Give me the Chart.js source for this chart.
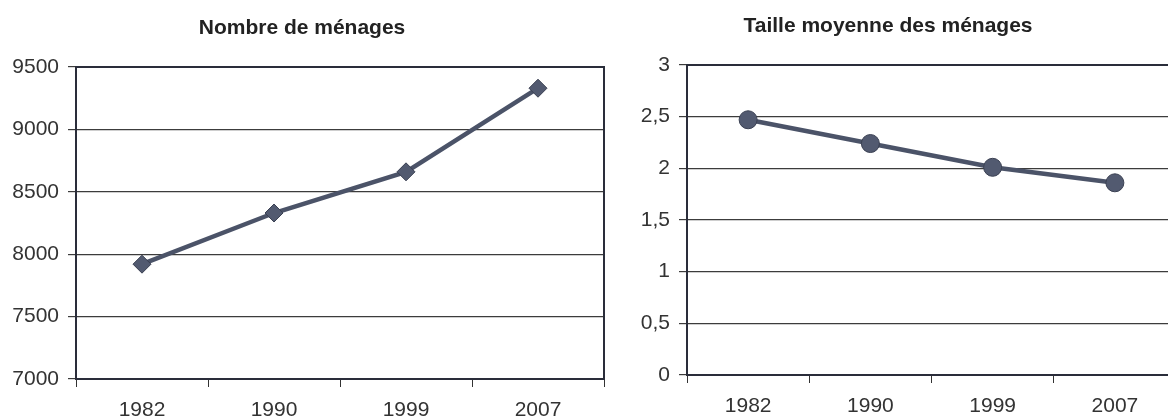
<!DOCTYPE html>
<html>
<head>
<meta charset="utf-8">
<script src="https://cdn.jsdelivr.net/npm/chart.js@4/dist/chart.umd.min.js"></script>
<style>
  html, body { margin: 0; padding: 0; background: #fff; overflow: hidden; width: 1168px; height: 419px; }
  #left { position: absolute; left: 0; top: 0; }
  #right { position: absolute; left: 600px; top: 0; }
</style>
</head>
<body>
<canvas id="left" width="638" height="419"></canvas>
<canvas id="right" width="660" height="419"></canvas>
<script>
// data
var years = ['1982', '1990', '1999', '2007'];
var nbMenages = [7920, 8330, 8660, 9330];
var tailleMoyenne = [2.47, 2.24, 2.01, 1.86];
var nbTicks = [7000, 7500, 8000, 8500, 9000, 9500];
var nbTickLabels = ['7000', '7500', '8000', '8500', '9000', '9500'];
var tailleTicks = [0, 0.5, 1, 1.5, 2, 2.5, 3];
var tailleTickLabels = ['0', '0,5', '1', '1,5', '2', '2,5', '3'];

var font = "'Liberation Sans', Arial, sans-serif";
var lineColor = '#4b5368';

// frame around the plot area
var framePlugin = {
	id: 'frame',
	afterDraw: function(chart) {
		var a = chart.chartArea, ctx = chart.ctx;
		ctx.save();
		ctx.strokeStyle = '#2a2d3a';
		ctx.lineWidth = 2;
		ctx.strokeRect(a.left, a.top, a.right - a.left, a.bottom - a.top);
		ctx.restore();
	}
};

function makeChart(id, title, data, ticks, tickLabels, pointStyle, yWidth, padRight, topH, xH) {
	var ctx = document.getElementById(id);
	return new Chart(ctx, {
		type: 'line',
		data: {
			labels: years,
			datasets: [{
				data: data,
				borderColor: lineColor,
				borderWidth: 4.5,
				tension: 0,
				pointStyle: pointStyle,
				pointRadius: 9,
				pointBackgroundColor: '#525a70',
				pointBorderColor: '#3a4052',
				pointBorderWidth: 1
			}]
		},
		options: {
			responsive: false,
			animation: false,
			layout: { padding: { left: 0, right: padRight, top: 0, bottom: 0 } },
			plugins: {
				legend: { display: false },
				tooltip: { enabled: false },
				title: {
					display: true,
					text: title,
					color: '#222',
					font: { family: font, size: 21, weight: 'bold' },
					padding: { top: topH - 25.2 - 26, bottom: 26 }
				}
			},
			scales: {
				x: {
					offset: true,
					grid: { offset: true, drawOnChartArea: false, drawTicks: true, tickLength: 8, color: '#333', lineWidth: 1 },
					border: { display: true, color: '#222', width: 2 },
					ticks: { color: '#333', font: { family: font, size: 21 }, padding: 11, maxRotation: 0 },
					afterFit: function(s) { s.height = xH; }
				},
				y: {
					min: ticks[0],
					max: ticks[ticks.length - 1],
					afterBuildTicks: function(s) { s.ticks = ticks.map(function(v) { return { value: v }; }); },
					grid: { color: '#3c3c3c', lineWidth: 1.2, drawTicks: true, tickLength: 8 },
					border: { display: true, color: '#1f2233', width: 2 },
					ticks: {
						color: '#333',
						font: { family: font, size: 21 },
						padding: 9,
						callback: function(v, i) { return tickLabels[i]; }
					},
					afterFit: function(s) { s.width = yWidth; }
				}
			}
		},
		plugins: [framePlugin]
	});
}

makeChart('left', 'Nombre de ménages', nbMenages, nbTicks, nbTickLabels, 'rectRot', 76, 34, 67, 40);
makeChart('right', 'Taille moyenne des ménages', tailleMoyenne, tailleTicks, tailleTickLabels, 'circle', 87, 84, 65, 44);
</script>
</body>
</html>
